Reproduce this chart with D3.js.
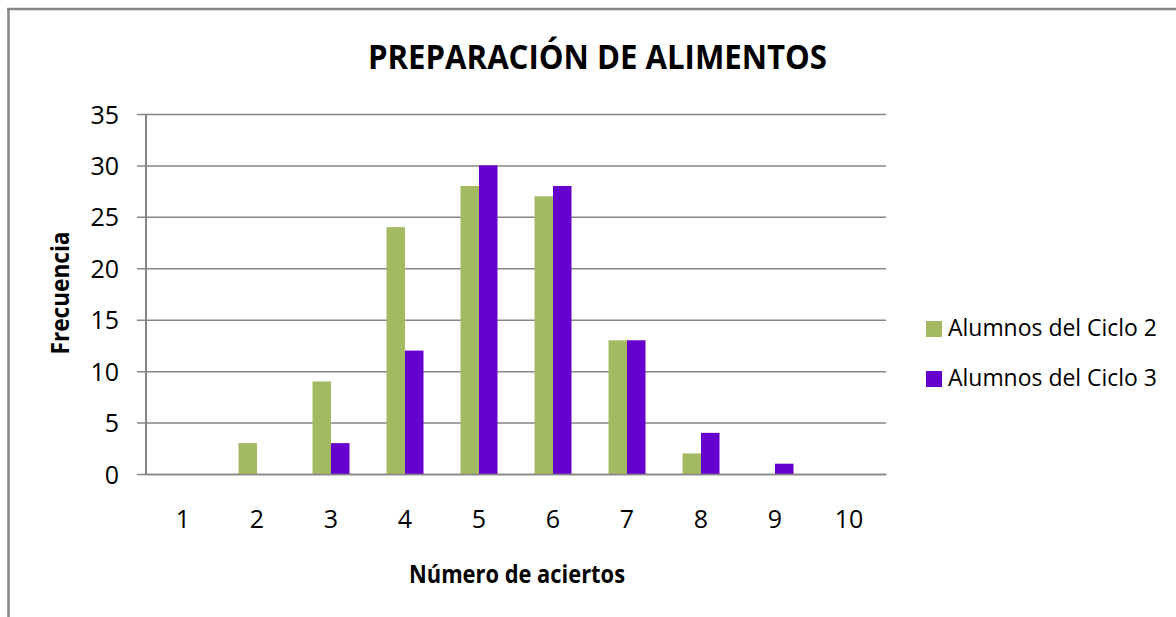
<!DOCTYPE html>
<html>
<head>
<meta charset="utf-8">
<script src="https://cdn.jsdelivr.net/npm/d3@7"></script>
<style>
  html, body { margin: 0; padding: 0; background: #fff; }
  svg { display: block; }
  text { font-family: "Open Sans", "Noto Sans", sans-serif; fill: #000; }
</style>
</head>
<body>
<svg id="chart" width="1176" height="617"></svg>
<script>
// Respuestas correctas (número de aciertos) y su frecuencia por ciclo
const categories = ["1", "2", "3", "4", "5", "6", "7", "8", "9", "10"];
const seriesNames = ["Alumnos del Ciclo 2", "Alumnos del Ciclo 3"];
const ciclo2 = [0, 3, 9, 24, 28, 27, 13, 2, 0, 0];
const ciclo3 = [0, 0, 3, 12, 30, 28, 13, 4, 1, 0];
const yTicks = [0, 5, 10, 15, 20, 25, 30, 35];
const colors = ["#A4BA62", "#6600CC"];

const title = "PREPARACIÓN DE ALIMENTOS";
const xTitle = "Número de aciertos";
const yTitle = "Frecuencia";

const seriesValues = [ciclo2, ciclo3];
const rows = categories.map((c, i) => ({
  cat: c,
  vals: seriesNames.map((s, k) => ({ key: s, value: seriesValues[k][i] }))
}));

const svg = d3.select("#chart");
const plot = { left: 146, right: 886, top: 114, bottom: 474 };

// outer frame
const frameColor = "#868686";
svg.append("line").attr("x1", 8.5).attr("x2", 8.5).attr("y1", 8).attr("y2", 617)
  .attr("stroke", frameColor).attr("stroke-width", 2.5);
svg.append("line").attr("x1", 7).attr("x2", 1176).attr("y1", 9).attr("y2", 9)
  .attr("stroke", frameColor).attr("stroke-width", 2.5);

// scales
const x0 = d3.scaleBand().domain(categories)
  .range([plot.left, plot.right]).paddingInner(0.5).paddingOuter(0.25);
const x1 = d3.scaleBand().domain(seriesNames).range([0, x0.bandwidth()]);
const y = d3.scaleLinear().domain([0, 35]).range([plot.bottom, plot.top]);

// gridlines with outside tick marks
const yAxis = d3.axisLeft(y).tickValues(yTicks)
  .tickSize(-(plot.right - plot.left)).tickSizeOuter(0).tickFormat(d3.format("d"));
const gy = svg.append("g").attr("transform", `translate(${plot.left},0)`).call(yAxis);
gy.select(".domain").remove();
gy.selectAll(".tick line")
  .attr("x1", -9)
  .attr("stroke", frameColor).attr("stroke-width", 1.5);
gy.selectAll(".tick text")
  .attr("x", -27).attr("dy", "0.36em")
  .style("font-size", "25px").style("font-family", "'Open Sans', sans-serif")
  .attr("fill", "#000");

// y axis line
svg.append("line").attr("x1", plot.left).attr("x2", plot.left)
  .attr("y1", plot.top).attr("y2", plot.bottom)
  .attr("stroke", frameColor).attr("stroke-width", 2);

// bars
const groups = svg.append("g").selectAll("g").data(rows).join("g")
  .attr("transform", d => `translate(${x0(d.cat)},0)`);
groups.selectAll("rect").data(d => d.vals).join("rect")
  .attr("x", d => x1(d.key))
  .attr("width", x1.bandwidth())
  .attr("y", d => y(d.value))
  .attr("height", d => y(0) - y(d.value))
  .attr("fill", (d, i) => colors[i]);

// x axis baseline and labels
const xAxis = d3.axisBottom(x0).tickSize(0).tickSizeOuter(0);
const gx = svg.append("g").attr("transform", `translate(0,${plot.bottom})`).call(xAxis);
gx.select(".domain").attr("stroke", frameColor).attr("stroke-width", 1.5);
gx.selectAll(".tick text")
  .attr("y", 45).attr("dy", "0.36em")
  .style("font-size", "25px").style("font-family", "'Open Sans', sans-serif")
  .attr("fill", "#000");

// titles
svg.append("text").attr("x", 597.5).attr("y", 69).attr("text-anchor", "middle")
  .attr("font-size", 33.5).attr("font-weight", "bold")
  .attr("textLength", 459).attr("lengthAdjust", "spacingAndGlyphs")
  .text(title);

svg.append("text").attr("x", 517).attr("y", 583).attr("text-anchor", "middle")
  .attr("font-size", 24.5).attr("font-weight", "bold")
  .attr("textLength", 216).attr("lengthAdjust", "spacingAndGlyphs")
  .text(xTitle);

svg.append("text").attr("transform", "translate(69,293) rotate(-90)")
  .attr("text-anchor", "middle")
  .attr("font-size", 24.5).attr("font-weight", "bold")
  .attr("textLength", 123).attr("lengthAdjust", "spacingAndGlyphs")
  .text(yTitle);

// legend
const legend = svg.append("g").selectAll("g").data(seriesNames).join("g")
  .attr("transform", (d, i) => `translate(926,${321 + i * 50})`);
legend.append("rect").attr("width", 16).attr("height", 16)
  .attr("fill", (d, i) => colors[i]);
legend.append("text").attr("x", 22).attr("y", 15)
  .attr("font-size", 23)
  .attr("textLength", 209).attr("lengthAdjust", "spacingAndGlyphs")
  .text(d => d);
</script>
</body>
</html>
